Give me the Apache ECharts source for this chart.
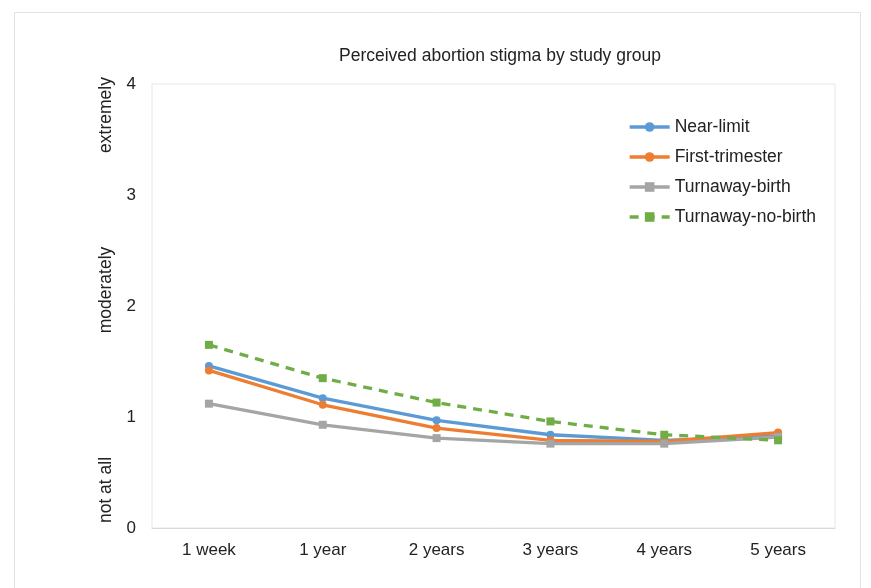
<!DOCTYPE html>
<html><head><meta charset="utf-8">
<script src="https://cdn.jsdelivr.net/npm/echarts@6/dist/echarts.min.js"></script>
<style>html,body{margin:0;padding:0;background:#fff}#c{width:871px;height:588px}</style>
</head><body><div id="c"></div>
<script>
const categories = ['1 week','1 year','2 years','3 years','4 years','5 years'];
const nearLimit = [1.46, 1.17, 0.97, 0.84, 0.79, 0.83];
const firstTrimester = [1.42, 1.11, 0.90, 0.79, 0.78, 0.86];
const turnawayBirth = [1.12, 0.93, 0.81, 0.76, 0.76, 0.82];
const turnawayNoBirth = [1.65, 1.35, 1.13, 0.96, 0.84, 0.79];
const yTicks = [0, 1, 2, 3, 4];
const scaleLabels = ['extremely', 'moderately', 'not at all'];

const font = 'Liberation Sans, Arial, sans-serif';
const chart = echarts.init(document.getElementById('c'), null, {renderer: 'canvas'});
const grid = {left: 152, top: 84, right: 36, bottom: 60};

function ser(name, data, color, symbol, dashed) {
  return {
    name, type: 'line', data, symbol, symbolSize: 8,
    lineStyle: {color, width: 3.3, type: dashed ? [9, 7] : 'solid'},
    itemStyle: {color}, animation: false
  };
}

chart.setOption({
  animation: false,
  backgroundColor: '#fff',
  title: {
    text: 'Perceived abortion stigma by study group', left: 495, top: 42, textAlign: 'center',
    textStyle: {fontFamily: font, fontSize: 17.5, fontWeight: 'normal', color: '#222'}
  },
  legend: {
    orient: 'vertical', left: 623, top: 113, itemWidth: 40, itemHeight: 12, itemGap: 12,
    lineStyle: {width: 3.3},
    textStyle: {fontFamily: font, fontSize: 17.5, color: '#222'},
    data: ['Near-limit', 'First-trimester', 'Turnaway-birth', 'Turnaway-no-birth']
  },
  grid: Object.assign({show: true, borderColor: '#e6e6e6', borderWidth: 1}, grid),
  xAxis: {
    type: 'category', data: categories, boundaryGap: true,
    axisLine: {lineStyle: {color: '#d9d9d9', width: 1}}, axisTick: {show: false},
    axisLabel: {fontFamily: font, fontSize: 17, color: '#222', margin: 14}
  },
  yAxis: {
    type: 'value', min: yTicks[0], max: yTicks[yTicks.length-1], interval: 1,
    axisLine: {show: false}, axisTick: {show: false}, splitLine: {show: false},
    axisLabel: {fontFamily: font, fontSize: 17, color: '#222', margin: 16}
  },
  graphic: [
    {type: 'rect', left: 12, top: 10, shape: {width: 846, height: 600}, style: {fill: 'none', stroke: '#e3e3e3', lineWidth: 1}, z: -1},
    {type: 'text', x: 106, y: 115, rotation: Math.PI/2, style: {text: scaleLabels[0], font: '17.5px ' + font, fill: '#222', align: 'center', verticalAlign: 'middle'}},
    {type: 'text', x: 106, y: 290, rotation: Math.PI/2, style: {text: scaleLabels[1], font: '17.5px ' + font, fill: '#222', align: 'center', verticalAlign: 'middle'}},
    {type: 'text', x: 106, y: 490, rotation: Math.PI/2, style: {text: scaleLabels[2], font: '17.5px ' + font, fill: '#222', align: 'center', verticalAlign: 'middle'}}
  ],
  series: [
    ser('Near-limit', nearLimit, '#5B9BD5', 'circle', false),
    ser('First-trimester', firstTrimester, '#ED7D31', 'circle', false),
    ser('Turnaway-birth', turnawayBirth, '#A5A5A5', 'rect', false),
    ser('Turnaway-no-birth', turnawayNoBirth, '#70AD47', 'rect', true)
  ]
});
</script></body></html>
